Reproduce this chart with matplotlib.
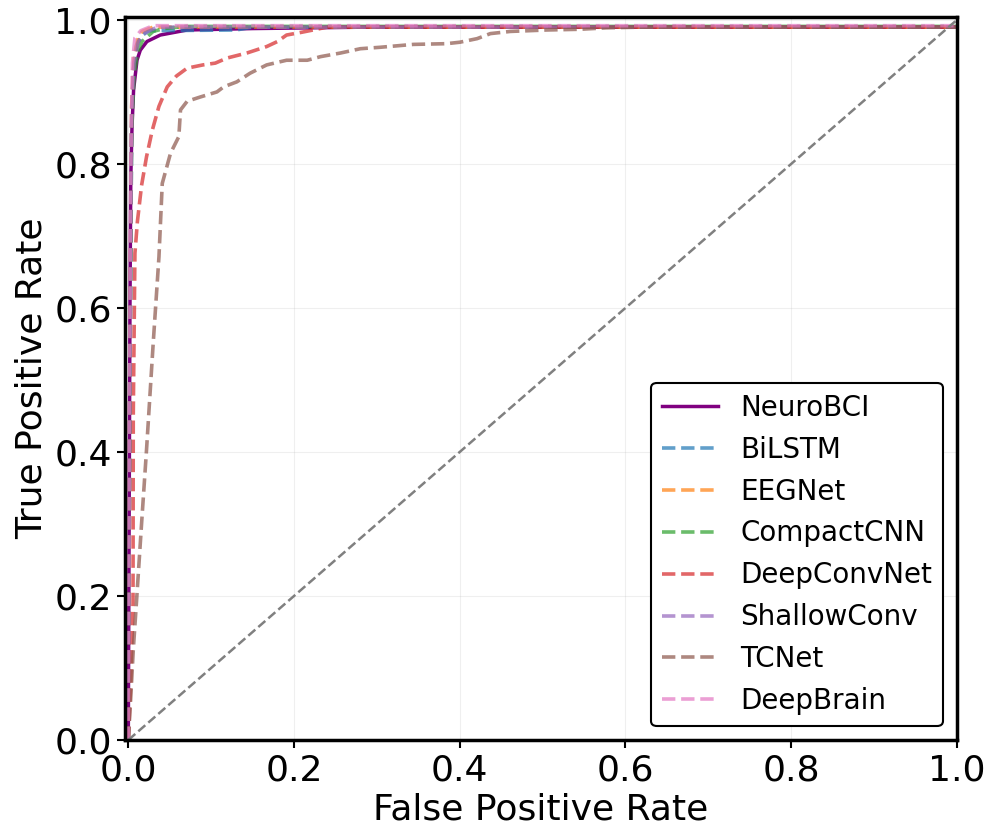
import matplotlib
matplotlib.use("Agg")
import matplotlib.pyplot as plt

# ROC points (fpr, tpr)
neuro_fpr = [0, 0.001, 0.002, 0.003, 0.0045, 0.0064, 0.0105, 0.0145, 0.0225, 0.0386, 0.071, 0.15, 0.29, 1.0]
neuro_tpr = [0, 0.30, 0.60, 0.78, 0.852, 0.903, 0.944, 0.958, 0.970, 0.979, 0.986, 0.988, 0.990, 0.990]

bilstm_fpr = [0, 0.002, 0.004, 0.006, 0.010, 0.016, 0.025, 0.13, 0.15, 1.0]
bilstm_tpr = [0, 0.50, 0.85, 0.93, 0.965, 0.978, 0.985, 0.986, 0.990, 0.990]

eegnet_fpr = [0, 0.002, 0.004, 0.007, 0.012, 0.0165, 0.03, 1.0]
eegnet_tpr = [0, 0.55, 0.88, 0.95, 0.975, 0.984, 0.990, 0.990]

compact_fpr = [0, 0.002, 0.004, 0.007, 0.011, 0.0165, 0.030, 0.043, 0.07, 1.0]
compact_tpr = [0, 0.50, 0.85, 0.92, 0.955, 0.970, 0.984, 0.988, 0.991, 0.991]

deepconv_fpr = [0, 0.003, 0.0057, 0.006, 0.008, 0.011, 0.016, 0.022, 0.029, 0.037, 0.047, 0.058,
                0.071, 0.090, 0.105, 0.119, 0.143, 0.167, 0.180, 0.191, 0.210, 0.223, 0.24, 1.0]
deepconv_tpr = [0, 0.08, 0.19, 0.45, 0.676, 0.72, 0.77, 0.81, 0.847, 0.88, 0.907, 0.922,
                0.933, 0.9375, 0.94, 0.947, 0.954, 0.963, 0.970, 0.979, 0.983, 0.986, 0.990, 0.990]

shallow_fpr = [0, 0.002, 0.004, 0.007, 0.012, 0.02, 0.035, 1.0]
shallow_tpr = [0, 0.50, 0.87, 0.94, 0.97, 0.982, 0.990, 0.990]

tcnet_fpr = [0, 0.003, 0.006, 0.010, 0.016, 0.022, 0.030, 0.037, 0.041, 0.051, 0.061, 0.063,
             0.071, 0.087, 0.107, 0.115, 0.131, 0.147, 0.167, 0.191, 0.216, 0.232, 0.256, 0.280,
             0.304, 0.344, 0.384, 0.400, 0.421, 0.437, 0.461, 0.505, 0.545, 0.577, 0.62, 1.0]
tcnet_tpr = [0, 0.06, 0.125, 0.194, 0.30, 0.403, 0.55, 0.671, 0.773, 0.815, 0.838, 0.875,
             0.887, 0.893, 0.900, 0.907, 0.914, 0.926, 0.9375, 0.944, 0.944, 0.949, 0.954, 0.960,
             0.962, 0.966, 0.967, 0.969, 0.974, 0.981, 0.984, 0.986, 0.987, 0.989, 0.990, 0.990]

deepbrain_fpr = [0, 0.001, 0.003, 0.005, 0.008, 0.015, 0.03, 1.0]
deepbrain_tpr = [0, 0.40, 0.80, 0.94, 0.975, 0.985, 0.992, 0.992]

baselines = [
    ("BiLSTM", bilstm_fpr, bilstm_tpr, "#1f77b4"),
    ("EEGNet", eegnet_fpr, eegnet_tpr, "#ff7f0e"),
    ("CompactCNN", compact_fpr, compact_tpr, "#2ca02c"),
    ("DeepConvNet", deepconv_fpr, deepconv_tpr, "#d62728"),
    ("ShallowConv", shallow_fpr, shallow_tpr, "#9467bd"),
    ("TCNet", tcnet_fpr, tcnet_tpr, "#8c564b"),
    ("DeepBrain", deepbrain_fpr, deepbrain_tpr, "#e377c2"),
]

fig = plt.figure(figsize=(9.88, 8.31), dpi=100)
ax = fig.add_axes([0.1265, 0.1095, 0.842, 0.87])

ax.plot(neuro_fpr, neuro_tpr, color="purple", lw=2.5, label="NeuroBCI")
for name, fpr, tpr, col in baselines:
    ax.plot(fpr, tpr, "--", color=col, lw=2.6, alpha=0.7, label=name)

ax.plot([0, 1], [0, 1], "--", color="gray", lw=1.8)

ax.set_xlim(-0.004, 1.0)
ax.set_ylim(0.0, 1.004)
ax.set_xticks([0, 0.2, 0.4, 0.6, 0.8, 1.0])
ax.set_yticks([0, 0.2, 0.4, 0.6, 0.8, 1.0])
ax.tick_params(labelsize=26, width=1.5, length=6)
ax.set_xlabel("False Positive Rate", fontsize=26)
ax.set_ylabel("True Positive Rate", fontsize=26)
ax.grid(True, alpha=0.2)
for s in ax.spines.values():
    s.set_linewidth(2.5)

leg = ax.legend(loc="lower right", fontsize=20, framealpha=1, fancybox=True)
leg.get_frame().set_edgecolor("black")
leg.get_frame().set_linewidth(1.5)

fig.savefig("out.png", dpi=100)
